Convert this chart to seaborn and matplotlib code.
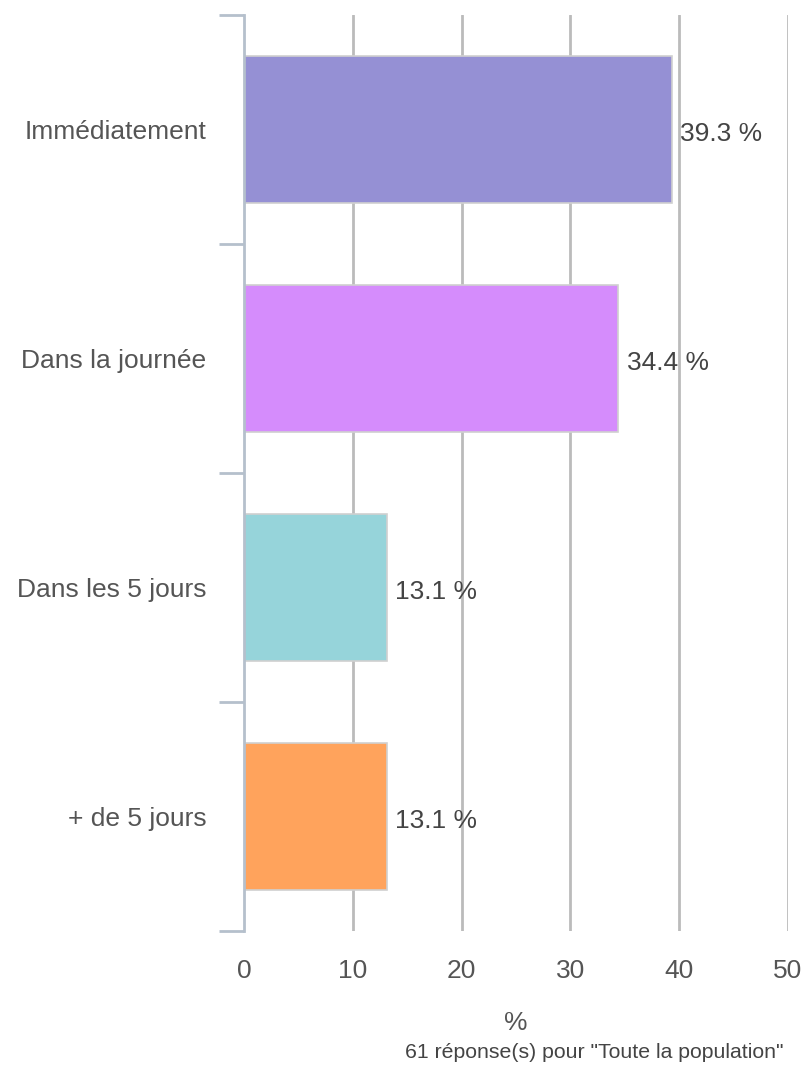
import matplotlib
matplotlib.use("Agg")
import matplotlib.pyplot as plt
import seaborn as sns
import pandas as pd
import numpy as np

categories = ["Immédiatement", "Dans la journée", "Dans les 5 jours", "+ de 5 jours"]
values = [39.3, 34.4, 13.1, 13.1]
colors = ["#9590d4", "#d58cfc", "#96d4da", "#ffa35c"]
x_ticks = [0, 10, 20, 30, 40, 50]
x_label = "%"
footnote = '61 réponse(s) pour "Toute la population"'

sns.set_theme(style="white")
plt.rcParams['font.family'] = ['Liberation Sans', 'DejaVu Sans']

df = pd.DataFrame({"cat": categories, "val": values})

fig = plt.figure(figsize=(8.05, 10.65), dpi=100)
ax = fig.add_axes([244/805, 1-931/1065, (788-244)/805, (931-15)/1065])

sns.barplot(data=df, y="cat", x="val", hue="cat", palette=colors, order=categories,
            hue_order=categories, orient="h", width=0.64, legend=False,
            edgecolor="#d0d0d0", linewidth=1.2, saturation=1, ax=ax, zorder=3)

ax.set_xlim(0, 50)
ax.set_ylim(3.5, -0.5)
ax.set_xticks(x_ticks)
ax.set_xticklabels([str(t) for t in x_ticks])
for t in x_ticks[1:]:
    ax.axvline(t, color="#bbbbbb", lw=2, zorder=1)

for s in ["top", "right", "bottom"]:
    ax.spines[s].set_visible(False)
ax.spines["left"].set_color("#b5c0cc")
ax.spines["left"].set_linewidth(2)
ax.spines["left"].set_zorder(4)

ax.set_yticks(range(len(categories)))
ax.set_yticklabels(categories)
ax.set_yticks(np.arange(-0.5, len(categories), 1.0), minor=True)
ax.tick_params(axis="y", which="major", length=0, pad=27, labelsize=19, labelcolor="#555555")
ax.tick_params(axis="y", which="minor", length=18, width=2, color="#b5c0cc", left=True)
ax.tick_params(axis="x", which="both", length=0, pad=20, labelsize=19, labelcolor="#555555")

ax.set_ylabel("")
ax.set_xlabel("")

for i, v in enumerate(values):
    ax.annotate(f"{v} %", xy=(v, i), xytext=(6, -3.5), textcoords="offset points",
                va="center", ha="left", fontsize=19, color="#444444", zorder=5)

fig.text(516/805, 1-1023/1065, x_label, ha="center", va="center", fontsize=19, color="#555555")
fig.text(783/805, 1-1053/1065, footnote, ha="right", va="center", fontsize=15.3, color="#444444")

fig.savefig("out.png", dpi=100)
